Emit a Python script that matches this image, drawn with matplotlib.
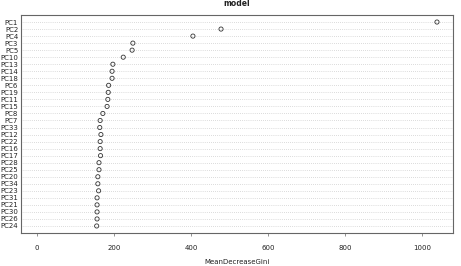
import matplotlib
matplotlib.use("Agg")
import matplotlib.pyplot as plt

labels = ["PC1", "PC2", "PC4", "PC3", "PC5", "PC10", "PC13", "PC14", "PC18", "PC6",
          "PC19", "PC11", "PC15", "PC8", "PC7", "PC33", "PC12", "PC22", "PC16", "PC17",
          "PC28", "PC25", "PC20", "PC34", "PC23", "PC31", "PC21", "PC30", "PC26", "PC24"]
values = [1039, 478, 405, 249, 247, 224, 197, 195, 195, 186,
          185, 184, 182, 171, 164, 163, 166, 164, 164, 165,
          161, 161, 158, 158, 160, 156, 156, 156, 156, 155]
xticks = [0, 200, 400, 600, 800, 1000]

n = len(labels)
ypos = list(range(n, 0, -1))

fig = plt.figure(figsize=(4.61, 2.66), dpi=100)
ax = fig.add_axes([21/461, (266-233)/266, (453-21)/461, (233-15)/266])

for y in ypos:
    ax.axhline(y, color="#bbbbbb", lw=0.5, ls=(0, (1, 2)), zorder=1)
ax.scatter(values, ypos, s=9, facecolors="none", edgecolors="#333333", linewidths=0.6, zorder=3)

ax.set_xlim(-41.6, 1080.6)
ax.set_ylim(0, n + 1)
ax.set_yticks(ypos)
ax.set_yticklabels(labels, fontsize=5, color="#222222")
ax.tick_params(axis="y", length=0, pad=2)
ax.set_xticks(xticks)
ax.set_xticklabels([str(v) for v in xticks], fontsize=5, color="#222222")
ax.tick_params(axis="x", length=2.5, width=0.5, color="#666666", pad=6)
for s in ax.spines.values():
    s.set_color("#666666")
    s.set_linewidth(0.8)
ax.set_xlabel("MeanDecreaseGini", fontsize=5, color="#222222", labelpad=6)
fig.text(237/461, 1 - 3/266, "model", ha="center", va="center", fontsize=5.5, fontweight="bold", color="#222222")

fig.savefig("out.png", dpi=100)
